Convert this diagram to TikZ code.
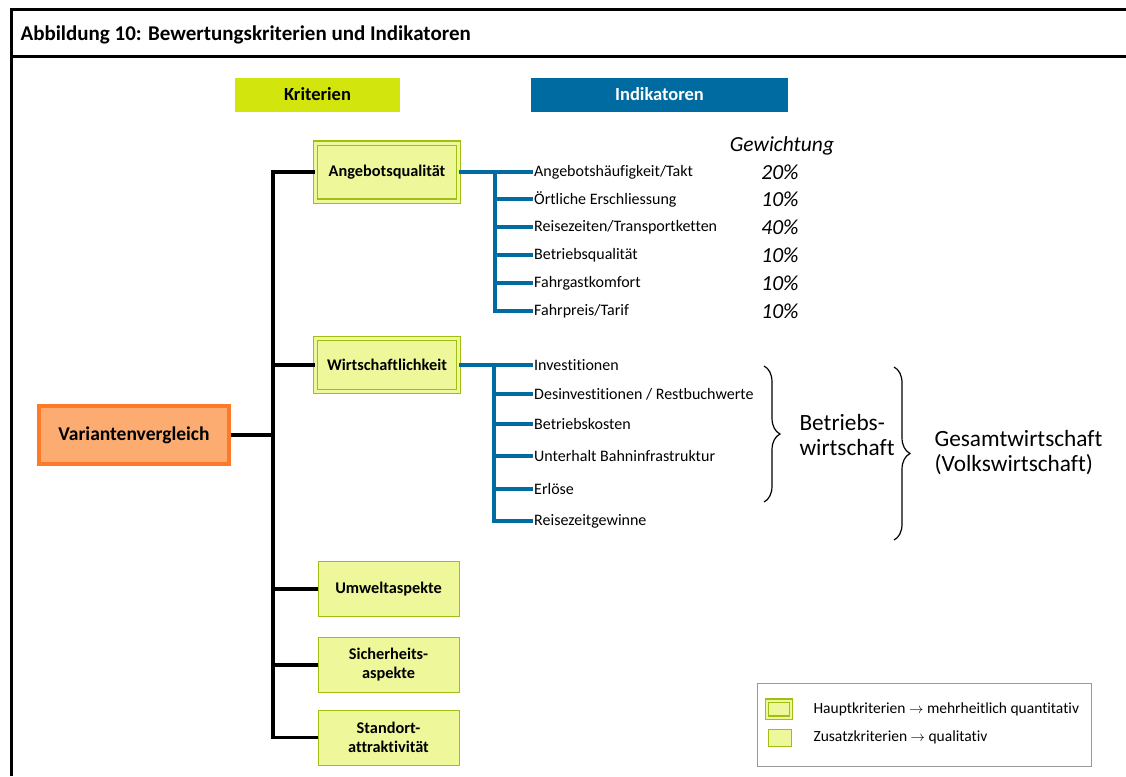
\documentclass[tikz,border=0pt]{standalone}
\usepackage{fontspec}
\setmainfont[Ligatures=NoCommon]{Carlito}
\usetikzlibrary{positioning,decorations.pathreplacing}

\definecolor{kritgruen}{RGB}{210,230,14}
\definecolor{indblau}{RGB}{0,107,160}
\definecolor{boxfill}{RGB}{238,247,153}
\definecolor{boxrand}{RGB}{160,190,20}
\definecolor{orfill}{RGB}{252,172,112}
\definecolor{orrand}{RGB}{255,122,40}

\begin{document}
\begin{tikzpicture}[x=1pt, y=-1pt]
  \tikzset{
    header/.style={minimum height=34pt, inner sep=0pt, font=\fontsize{18.5}{18.5}\selectfont\bfseries},
    hauptbox/.style={draw=boxrand, double=boxfill, double distance=3pt, line width=1.4pt, fill=boxfill, minimum width=143pt, font=\fontsize{16.3}{18}\selectfont\bfseries},
    zusatzbox/.style={draw=boxrand, line width=1pt, fill=boxfill, minimum width=141pt, minimum height=55pt, align=center, font=\fontsize{16.3}{19}\selectfont\bfseries},
    indtext/.style={anchor=west, inner sep=1pt, font=\fontsize{16}{16}\selectfont},
    gewicht/.style={font=\fontsize{21.5}{21.5}\selectfont\itshape},
    blauline/.style={draw=indblau, line width=3.3pt},
    stamm/.style={draw=black, line width=3.3pt},
    klammer/.style={decorate, decoration={brace, amplitude=16pt}, line width=1.2pt},
    gross/.style={align=left, font=\fontsize{23.3}{25}\selectfont}
  }
  \useasboundingbox (0,0) rectangle (1126,776);

  % Rahmen und Titel
  \draw[line width=3pt] (11,776) -- (11,10) -- (1126,10);
  \draw[line width=3pt] (11,57) -- (1126,57);
  \node[anchor=west, font=\fontsize{21}{21}\selectfont\bfseries] (titel) at (17,35)
    {Abbildung 10: Bewertungskriterien und Indikatoren};

  % Spaltenköpfe
  \node[header, fill=kritgruen, minimum width=165pt] (krit) at (317.5,94.5) {Kriterien};
  \node[header, fill=indblau, text=white, minimum width=257pt] (ind) at (659.5,94.5) {Indikatoren};

  % Kriterien
  \node[draw=orrand, line width=4pt, fill=orfill, minimum width=190pt, minimum height=58pt,
    font=\fontsize{19.5}{19.5}\selectfont\bfseries] (vgl) at (134,435) {Variantenvergleich};
  \node[hauptbox, minimum height=58pt] (ang) at (387,172) {Angebotsqualität};
  \node[hauptbox, minimum height=53pt] (wir) at (387,365) {Wirtschaftlichkeit};
  \node[zusatzbox] (umw) at (388.5,589) {Umweltaspekte};
  \node[zusatzbox] (sic) at (388.5,665) {Sicherheits-\\aspekte};
  \node[zusatzbox] (std) at (388.5,737.5) {Standort-\\attraktivität};

  % Stamm
  \coordinate (tr) at (273,172);
  \draw[stamm] (ang.west) -- (ang.west -| tr) -- (std.west -| tr) -- (std.west);
  \draw[stamm] (vgl.east) -- (vgl.east -| tr);
  \foreach \n in {wir,umw,sic}
    \draw[stamm] (\n.west -| tr) -- (\n.west);

  % Indikatoren Angebotsqualität
  \node[indtext] (a1) at (533,172) {Angebotshäufigkeit/Takt};
  \node[indtext] (a2) at (533,199) {Örtliche Erschliessung};
  \node[indtext] (a3) at (533,227) {Reisezeiten/Transportketten};
  \node[indtext] (a4) at (533,255) {Betriebsqualität};
  \node[indtext] (a5) at (533,283) {Fahrgastkomfort};
  \node[indtext] (a6) at (533,311) {Fahrpreis/Tarif};
  \coordinate (ab) at (495,172);
  \draw[blauline] (ang.east) -- (a1.west);
  \foreach \n in {2,...,6}
    \draw[blauline] (ab) |- (a\n.west);

  % Gewichtung
  \node[gewicht] (gew) at (782,146) {Gewichtung};
  \foreach \n/\p in {1/20,2/10,3/40,4/10,5/10,6/10}
    \node[gewicht] (p\n) at (a\n.west -| 780,0) {\p\%};

  % Indikatoren Wirtschaftlichkeit
  \node[indtext] (w1) at (533,365) {Investitionen};
  \node[indtext] (w2) at (533,394) {Desinvestitionen / Restbuchwerte};
  \node[indtext] (w3) at (533,424) {Betriebskosten};
  \node[indtext] (w4) at (533,456) {Unterhalt Bahninfrastruktur};
  \node[indtext] (w5) at (533,489) {Erlöse};
  \node[indtext] (w6) at (533,521) {Reisezeitgewinne};
  \coordinate (wb) at (494,365);
  \draw[blauline] (wir.east) -- (w1.west);
  \foreach \n in {2,...,6}
    \draw[blauline] (wb) |- (w\n.west);

  % Klammern
  \draw[klammer] (764,366) -- (764,502);
  \node[gross, anchor=west] (bw) at (796,435) {Betriebs-\\wirtschaft};
  \draw[klammer] (894,367) -- (894,540);
  \node[gross, anchor=west] (gw) at (931,453) {Gesamtwirtschaft\\(Volkswirtschaft)};

  % Legende
  \node[draw=gray!80, line width=1pt, minimum width=334pt, minimum height=83pt] (leg) at (924,724.5) {};
  \node[draw=boxrand, double=boxfill, double distance=2pt, line width=1.4pt, fill=boxfill,
    minimum width=24pt, minimum height=17pt] (lh) at (779,709) {};
  \node[draw=boxrand, line width=1pt, fill=boxfill, minimum width=23pt, minimum height=17pt] (lz) at (779.5,737.5) {};
  \node[anchor=west, font=\fontsize{15.5}{15.5}\selectfont] (lht) at (810,709)
    {Hauptkriterien $\rightarrow$ mehrheitlich quantitativ};
  \node[anchor=west, font=\fontsize{15.5}{15.5}\selectfont] (lzt) at (810,737)
    {Zusatzkriterien $\rightarrow$ qualitativ};
\end{tikzpicture}
\end{document}
